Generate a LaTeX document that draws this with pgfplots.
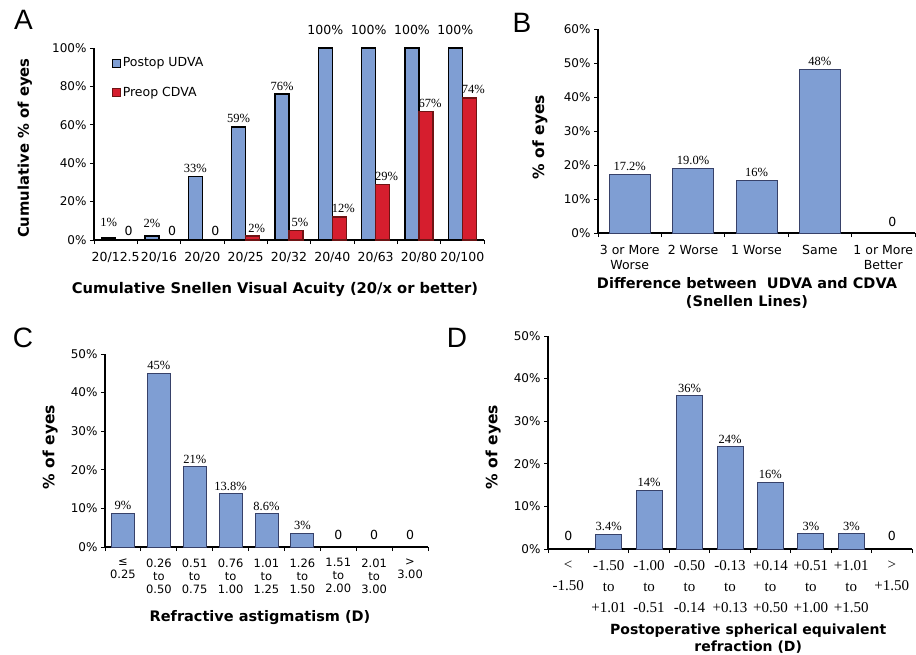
\documentclass[border=0pt]{standalone}
\usepackage{fontspec}
\setmainfont{DejaVu Sans}
\newfontfamily\serif{Liberation Serif}
\newfontfamily\arial{Liberation Sans}
\usepackage{pgfplots}
\pgfplotsset{compat=1.18}
\usepackage{pgfplotstable}

\definecolor{barblue}{RGB}{127,158,211}
\definecolor{barred}{RGB}{214,30,46}
\definecolor{rededge}{RGB}{110,20,20}
\definecolor{blueedge}{RGB}{55,65,105}

\newcommand\tickfont{\fontsize{12}{14}\selectfont}
\newcommand\labfont{\bfseries\fontsize{14}{17}\selectfont}
\newcommand\valfont{\serif\fontsize{12.5}{14}\selectfont}
\newcommand\zerofont{\fontsize{12.5}{14}\selectfont}

\pgfplotsset{
  panel/.style={
    scale only axis, clip=false,
    axis lines*=left,
    axis line style={line width=1.2pt, black},
    ymin=0,
    tick align=outside,
    major tick length=4pt,
    every tick/.style={black, line width=0.8pt},
    /pgf/number format/assume math mode=true,
    yticklabel={\pgfmathprintnumber{\tick}\%},
    yticklabel style={font=\tickfont},
    xticklabels={},
    extra x tick style={major tick length=0pt},
    xticklabel style={align=center, anchor=north},
    xlabel style={font=\labfont, align=center, anchor=center},
    ylabel style={font=\bfseries\fontsize{15.5}{18}\selectfont, anchor=center},
  },
  vals/.style={nodes near coords={\pgfplotspointmeta\%}, point meta=explicit symbolic,
    every node near coord/.append style={font=\valfont, black, inner sep=1pt, yshift=2pt}},
}

% Panel A
\pgfplotstableread{
x y lab dy
0 1 1 8
1 2 2 5
2 33 33 0
3 59 59 0
4 76 76 0
}\tabAblueA
\pgfplotstableread{
x y
5 100
6 100
7 100
8 100
}\tabAblueB
\pgfplotstableread{
x y lab
3 2 2
4 5 5
5 12 12
6 29 29
7 67 67
8 74 74
}\tabAred
\pgfplotstableread{
x y
0 0
1 0
2 0
}\tabAzero

% Panel B
\pgfplotstableread{
x y lab
0 17.2 17.2
1 19.0 19.0
2 15.5 16
3 48.2 48
}\tabB

% Panel C
\pgfplotstableread{
x y lab
0 8.8 9
1 45 45
2 20.8 21
3 13.8 13.8
4 8.6 8.6
5 3.6 3
}\tabC

% Panel D
\pgfplotstableread{
x y lab
1 3.4 3.4
2 13.8 14
3 36 36
4 24 24
5 15.6 16
6 3.6 3
7 3.6 3
}\tabD

\begin{document}
\begin{tikzpicture}
\path[use as bounding box] (0pt,0pt) rectangle (916pt,-655pt);

% ---------------- A ----------------
\begin{axis}[panel,
  at={(94pt,-240pt)}, anchor=south west,
  width=390pt, height=192pt,
  xmin=-0.5, xmax=8.5, ymax=100,
  ytick={0,20,...,100},
  xtick={-0.5,0.5,...,8.5},
  extra x ticks={0,...,8},
  extra x tick labels={20/12.5,20/16,20/20,20/25,20/32,20/40,20/63,20/80,20/100},
  xticklabel style={font=\fontsize{12.5}{14}\selectfont, yshift=-9pt},
  axis line style={line width=1.5pt},
  xlabel={Cumulative Snellen Visual Acuity (20/x or better)},
  xlabel style={font=\bfseries\fontsize{14.7}{17}\selectfont, at={(axis description cs:0.464,-0.26)}},
  ylabel={Cumulative \% of eyes},
  ylabel style={font=\bfseries\fontsize{14.8}{17}\selectfont, at={(axis description cs:-0.177,0.479)}},
  legend style={at={(axis description cs:0.045,0.96)}, anchor=north west,
    draw=none, fill=none, inner sep=0pt, row sep=15pt,
    font=\fontsize{12.5}{14}\selectfont},
  legend cell align=left,
]
\addlegendimage{legend image code/.code={\draw[fill=barblue,draw=black,line width=1pt] (0pt,-4pt) rectangle (8pt,4pt);}}
\addlegendentry{Postop UDVA}
\addlegendimage{legend image code/.code={\draw[fill=barred,draw=rededge,line width=1pt] (0pt,-4pt) rectangle (8pt,4pt);}}
\addlegendentry{Preop CDVA}

\addplot[forget plot, ybar, bar width=14pt, bar shift=-7pt, fill=barblue, draw=black, line width=1.6pt, vals,
  visualization depends on={\thisrow{dy} \as \dy},
  every node near coord/.append style={xshift=-7pt, yshift=\dy pt}]
  table[x=x, y=y, meta=lab] {\tabAblueA};
\addplot[forget plot, ybar, bar width=14pt, bar shift=-7pt, fill=barblue, draw=black, line width=1.6pt,
  nodes near coords={100\%},
  every node near coord/.append style={font=\fontsize{12.5}{14}\selectfont, black, xshift=-7pt, yshift=9pt}]
  table[x=x, y=y] {\tabAblueB};
\addplot[forget plot, ybar, bar width=14pt, bar shift=7pt, fill=barred, draw=rededge, line width=1.6pt, vals,
  every node near coord/.append style={xshift=11pt}]
  table[x=x, y=y, meta=lab] {\tabAred};
\addplot[forget plot, ybar, bar width=14pt, bar shift=7pt, draw=none, fill=none,
  nodes near coords={0},
  every node near coord/.append style={font=\zerofont, black, xshift=13pt, yshift=1pt}]
  table[x=x, y=y] {\tabAzero};
\end{axis}

% ---------------- B ----------------
\begin{axis}[panel,
  at={(598pt,-233pt)}, anchor=south west,
  width=317pt, height=204pt,
  xmin=-0.5, xmax=4.5, ymax=60,
  ytick={0,10,...,60},
  xtick={-0.5,0.5,...,4.5},
  extra x ticks={0,...,4},
  extra x tick labels={3 or More\\Worse, 2 Worse, 1 Worse, Same, 1 or More\\Better},
  xticklabel style={font=\fontsize{12.5}{15}\selectfont, yshift=-9pt},
  xlabel={Difference between\ \ UDVA and CDVA\\(Snellen Lines)},
  xlabel style={font=\bfseries\fontsize{14.5}{17.5}\selectfont, at={(axis description cs:0.47,-0.294)}},
  ylabel={\% of eyes},
  ylabel style={at={(axis description cs:-0.183,0.47)}},
]
\addplot[ybar, bar width=41pt, bar shift=0pt, fill=barblue, draw=blueedge, line width=0.8pt, vals]
  table[x=x, y=y, meta=lab] {\tabB};
\addplot[ybar, bar width=41pt, bar shift=0pt, draw=none, fill=none,
  nodes near coords={0},
  every node near coord/.append style={font=\zerofont, black, xshift=9pt, yshift=3pt}]
  coordinates {(4,0)};
\end{axis}

% ---------------- C ----------------
\begin{axis}[panel,
  at={(105pt,-547pt)}, anchor=south west,
  width=323pt, height=193pt,
  xmin=-0.5, xmax=8.5, ymax=50,
  ytick={0,10,...,50},
  xtick={-0.5,0.5,...,8.5},
  extra x ticks={0,...,8},
  extra x tick labels={≤\\0.25, 0.26\\to\\0.50, 0.51\\to\\0.75, 0.76\\to\\1.00, 1.01\\to\\1.25, 1.26\\to\\1.50, 1.51\\to\\2.00, 2.01\\to\\3.00, >\\3.00},
  xticklabel style={font=\fontsize{11.5}{13}\selectfont, yshift=-8pt},
  xlabel={Refractive astigmatism (D)},
  xlabel style={font=\bfseries\fontsize{14.5}{17}\selectfont, at={(axis description cs:0.48,-0.368)}},
  ylabel={\% of eyes},
  ylabel style={at={(axis description cs:-0.17,0.518)}},
]
\addplot[ybar, bar width=23pt, bar shift=0pt, fill=barblue, draw=blueedge, line width=0.8pt, vals]
  table[x=x, y=y, meta=lab] {\tabC};
\addplot[ybar, bar width=23pt, bar shift=0pt, draw=none, fill=none,
  nodes near coords={0},
  every node near coord/.append style={font=\zerofont, black, yshift=4pt}]
  coordinates {(6,0) (7,0) (8,0)};
\end{axis}

% ---------------- D ----------------
\begin{axis}[panel,
  at={(548pt,-549pt)}, anchor=south west,
  width=364pt, height=213pt,
  xmin=-0.5, xmax=8.5, ymax=50,
  ytick={0,10,...,50},
  xtick={-0.5,0.5,...,8.5},
  extra x ticks={0,...,8},
  extra x tick labels={<\\-1.50, -1.50\\to\\+1.01, -1.00\\to\\-0.51, -0.50\\to\\-0.14, -0.13\\to\\+0.13, +0.14\\to\\+0.50, +0.51\\to\\+1.00, +1.01\\to\\+1.50, >\\+1.50},
  xticklabel style={font=\serif\fontsize{15}{21}\selectfont, yshift=-8pt},
  xlabel={Postoperative spherical equivalent\\refraction (D)},
  xlabel style={at={(axis description cs:0.55,-0.42)}},
  ylabel={\% of eyes},
  ylabel style={at={(axis description cs:-0.151,0.479)}},
]
\addplot[ybar, bar width=26pt, bar shift=0pt, fill=barblue, draw=blueedge, line width=0.9pt, vals]
  table[x=x, y=y, meta=lab] {\tabD};
\addplot[ybar, bar width=26pt, bar shift=0pt, draw=none, fill=none,
  nodes near coords={0},
  every node near coord/.append style={font=\zerofont, black, yshift=5pt}]
  coordinates {(0,0) (8,0)};
\end{axis}

% panel letters
\node[font=\arial\fontsize{28}{30}\selectfont, anchor=base] at (23.5pt,-30pt) {A};
\node[font=\arial\fontsize{28}{30}\selectfont, anchor=base] at (522pt,-33pt) {B};
\node[font=\arial\fontsize{28}{30}\selectfont, anchor=base] at (23pt,-347pt) {C};
\node[font=\arial\fontsize{28}{30}\selectfont, anchor=base] at (457pt,-347pt) {D};
\end{tikzpicture}
\end{document}
